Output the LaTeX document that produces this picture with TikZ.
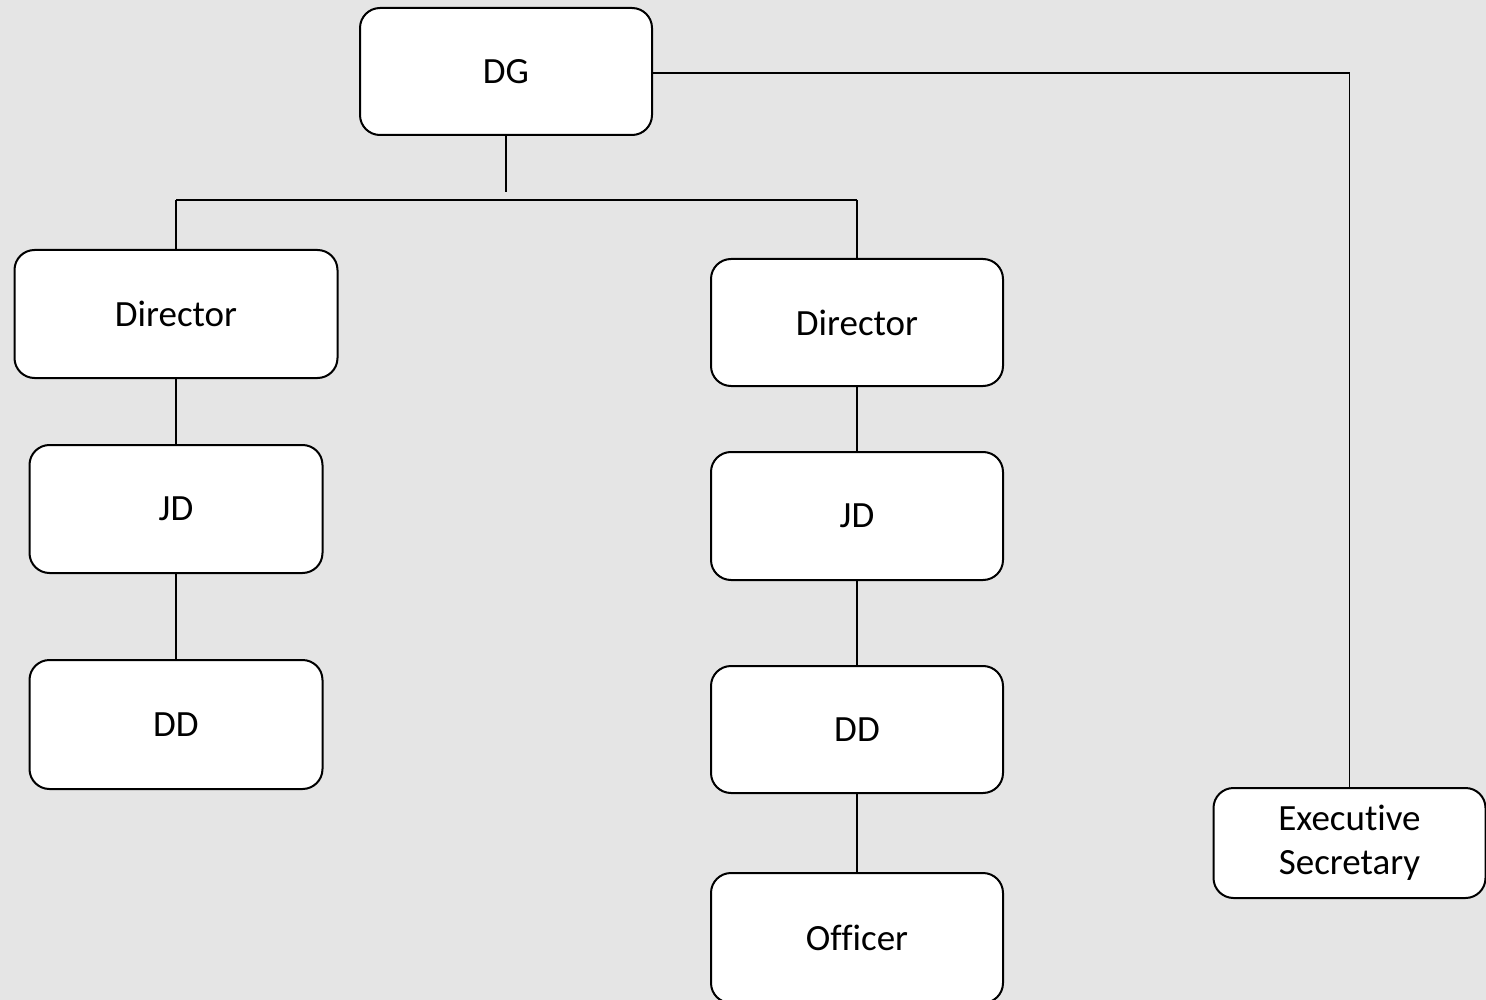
\documentclass[tikz,border=0pt]{standalone}
\usepackage{fontspec}
\setmainfont[Ligatures=NoCommon]{Carlito}
\begin{document}
\begin{tikzpicture}[x=1pt,y=-1pt,
  box/.style={draw=black,fill=white,line width=2pt,rounded corners=20pt,
    minimum width=#1,align=center,inner sep=0pt,
    font=\fontsize{37}{44}\selectfont},
  box/.default=292pt,
  link/.style={draw=black,line width=1.1pt}]
\fill[fill=black!10] (0,0) rectangle (1486,1000);
\useasboundingbox (0,0) rectangle (1486,1000);
\clip (0,0) rectangle (1486,1000);

% top level
\node[box, minimum height=127pt] (dg) at (506,71.5) {DG};

% left branch
\node[box=323pt, minimum height=128pt] (dirL) at (176,314) {Director};
\node[box=293pt, minimum height=128pt] (jdL) at (176,509) {JD};
\node[box=293pt, minimum height=129pt] (ddL) at (176,724.5) {DD};

% right branch
\node[box, minimum height=127pt] (dirR) at (857,322.5) {Director};
\node[box, minimum height=128pt] (jdR) at (857,516) {JD};
\node[box, minimum height=127pt] (ddR) at (857,729.5) {DD};
\node[box, minimum height=130pt] (off) at (857,938) {Officer};

% side post
\node[box=272pt, minimum height=110pt] (es) at (1349.5,843) {Executive\\Secretary};

% connectors
\coordinate (dgstub) at (506,192);
\coordinate (busL) at (176,200);
\coordinate (busR) at (857,200);
\draw[link] (dg.south) -- (dgstub);
\draw[link] (busL) -- (busR);
\draw[link] (busL) -- (dirL.north);
\draw[link] (busR) -- (dirR.north);
\draw[link] (dirL) -- (jdL);
\draw[link] (jdL) -- (ddL);
\draw[link] (dirR) -- (jdR);
\draw[link] (jdR) -- (ddR);
\draw[link] (ddR) -- (off);
\draw[link] (dg.east |- 0,73) -| (es.north);
\end{tikzpicture}
\end{document}
